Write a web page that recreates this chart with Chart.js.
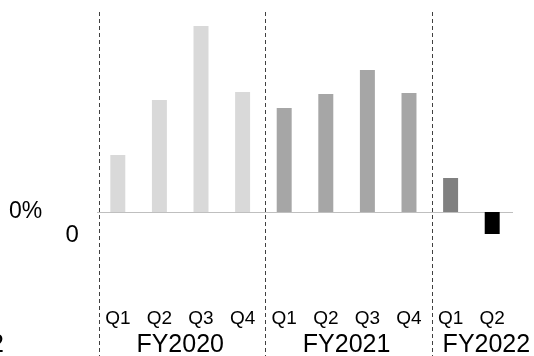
<!DOCTYPE html>
<html>
<head>
<meta charset="utf-8">
<script src="https://cdn.jsdelivr.net/npm/chart.js@4/dist/chart.umd.min.js"></script>
<style>
  html, body { margin: 0; padding: 0; background: #fff; }
  #wrap { width: 534px; height: 356px; }
</style>
</head>
<body>
<div id="wrap"><canvas id="grafica" width="534" height="356"></canvas></div>
<script>
// trimestres y valores (crecimiento por trimestre)
const trimestres = ['Q1', 'Q2', 'Q3', 'Q4', 'Q1', 'Q2', 'Q3', 'Q4', 'Q1', 'Q2'];
const valores = [5.7, 11.2, 18.6, 12.0, 10.4, 11.8, 14.2, 11.9, 3.4, -2.2];
const anios = ['FY2020', 'FY2021', 'FY2022'];
const trimestresPorAnio = [4, 4, 2];

const colores = [
  '#d9d9d9', '#d9d9d9', '#d9d9d9', '#d9d9d9',
  '#a6a6a6', '#a6a6a6', '#a6a6a6', '#a6a6a6',
  '#808080', '#000000'
];

const fuente = '"Liberation Sans", Arial, sans-serif';
Chart.defaults.font.family = fuente;
Chart.defaults.color = '#000';

// linea del cero, separadores punteados y textos sueltos
const extras = {
  id: 'extras',
  beforeDatasetsDraw(chart) {
    const { ctx, chartArea, scales: { y } } = chart;
    const y0 = Math.round(y.getPixelForValue(0)) + 0.5;
    ctx.save();
    ctx.strokeStyle = '#bfbfbf';
    ctx.lineWidth = 1;
    ctx.beginPath();
    ctx.moveTo(chartArea.left, y0);
    ctx.lineTo(chartArea.right, y0);
    ctx.stroke();
    ctx.restore();
  },
  afterDraw(chart, args, opts) {
    const { ctx, chartArea, scales: { x, y } } = chart;
    const paso = x.getPixelForValue(1) - x.getPixelForValue(0);
    const y0 = y.getPixelForValue(0);
    ctx.save();

    // separadores entre años
    ctx.strokeStyle = '#404040';
    ctx.lineWidth = 1;
    ctx.setLineDash([4, 3]);
    let inicio = 0;
    trimestresPorAnio.forEach(n => {
      const bx = Math.round(x.getPixelForValue(inicio) - paso / 2 + 2) + 0.5;
      ctx.beginPath();
      ctx.moveTo(bx, chartArea.top);
      ctx.lineTo(bx, chart.height);
      ctx.stroke();
      inicio += n;
    });
    ctx.setLineDash([]);

    // etiquetas de año
    ctx.fillStyle = '#000';
    ctx.textBaseline = 'alphabetic';
    ctx.font = '25px ' + fuente;
    ctx.textAlign = 'center';
    inicio = 0;
    anios.forEach((anio, i) => {
      const n = trimestresPorAnio[i];
      const cx = (x.getPixelForValue(inicio) + x.getPixelForValue(inicio + n - 1)) / 2 + opts.desplaza[i];
      ctx.fillText(anio, cx, 352);
      inicio += n;
    });
    ctx.textAlign = 'right';
    ctx.fillText('2', 4, 352);

    // textos del eje vertical
    ctx.textAlign = 'left';
    ctx.font = '23px ' + fuente;
    ctx.fillText('0%', 9, y0 + 5.5);
    ctx.font = '24px ' + fuente;
    ctx.fillText('0', 65.5, y0 + 29.5);
    ctx.restore();
  }
};

new Chart(document.getElementById('grafica'), {
  type: 'bar',
  data: {
    labels: trimestres,
    datasets: [{
      data: valores,
      backgroundColor: colores,
      borderWidth: 0,
      categoryPercentage: 1,
      barPercentage: 0.36
    }]
  },
  options: {
    responsive: false,
    animation: false,
    layout: { padding: { left: 97, right: 21, top: 12, bottom: 26 } },
    scales: {
      x: {
        grid: { display: false, drawTicks: false },
        border: { display: false },
        ticks: { padding: 5, font: { size: 19 }, color: '#000', maxRotation: 0, autoSkip: false },
        afterFit(scale) { scale.height = 28; }
      },
      y: {
        display: false,
        min: -9,
        max: 20
      }
    },
    plugins: {
      legend: { display: false },
      tooltip: { enabled: false },
      extras: { desplaza: [0, 0, 15] }
    }
  },
  plugins: [extras]
});
</script>
</body>
</html>
